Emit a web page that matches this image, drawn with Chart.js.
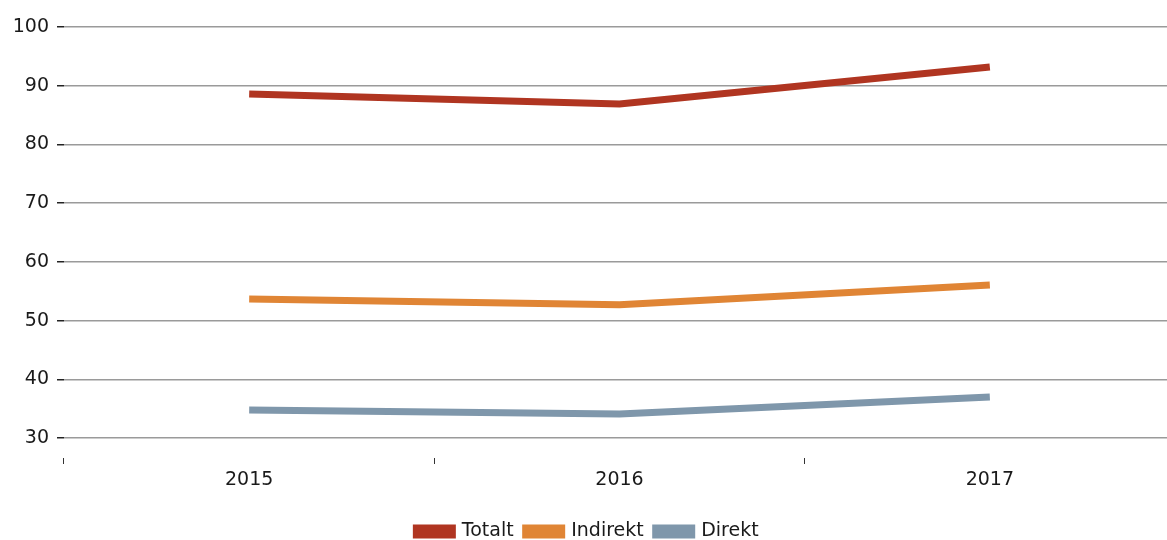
<!DOCTYPE html>
<html>
<head>
<meta charset="utf-8">
<script src="https://cdn.jsdelivr.net/npm/chart.js@4/dist/chart.umd.min.js"></script>
<style>
  html, body { margin: 0; padding: 0; overflow: hidden; background: #fff; }
  #wrap { width: 1175px; height: 540px; }
</style>
</head>
<body>
<div id="wrap"><canvas id="lineChart"></canvas></div>
<script>
// Data
const years = ['2015', '2016', '2017'];
const totalt = [88.6, 86.9, 93.2];
const indirekt = [53.7, 52.7, 56.1];
const direkt = [34.8, 34.1, 37.0];
const yTicks = [30, 40, 50, 60, 70, 80, 90, 100];

const fontFamily = '"DejaVu Sans", sans-serif';
const textColor = '#1a1a1a';
const gridColor = '#9a9a9a';

Chart.defaults.font.family = fontFamily;
Chart.defaults.color = textColor;

const lineChart = document.getElementById('lineChart');
if (lineChart) {
  const lineChartVar = new Chart(lineChart, {
    type: 'line',
    data: {
      labels: years,
      datasets: [
        { label: 'Totalt', data: totalt, borderColor: '#b03521', backgroundColor: '#b03521' },
        { label: 'Indirekt', data: indirekt, borderColor: '#e08535', backgroundColor: '#e08535' },
        { label: 'Direkt', data: direkt, borderColor: '#7f97ab', backgroundColor: '#7f97ab' }
      ]
    },
    options: {
      responsive: true,
      maintainAspectRatio: false,
      animation: false,
      layout: {
        padding: { top: 27, right: 0, left: 0, bottom: -11 }
      },
      elements: {
        line: { borderWidth: 7, tension: 0, borderCapStyle: 'butt' },
        point: { radius: 0, hoverRadius: 0 }
      },
      plugins: {
        tooltip: { enabled: false },
        legend: {
          position: 'bottom',
          labels: {
            boxWidth: 36,
            boxHeight: 7,
            padding: 12,
            color: textColor,
            font: { size: 19 }
          }
        }
      },
      scales: {
        x: {
          offset: true,
          border: { display: false },
          afterFit: function (scale) {
            scale.height += 15;
          },
          grid: {
            offset: true,
            drawOnChartArea: false,
            color: '#333',
            tickLength: 26,
            tickBorderDash: [0, 20, 6, 200]
          },
          ticks: {
            color: textColor,
            padding: 4,
            font: { size: 19 }
          }
        },
        y: {
          min: 30,
          max: 100,
          border: { display: false },
          afterBuildTicks: function (scale) {
            scale.ticks = yTicks.map(function (v) { return { value: v }; });
          },
          afterFit: function (scale) {
            scale.width = 64;
          },
          grid: {
            color: gridColor,
            lineWidth: 1.5,
            tickColor: '#222',
            tickLength: 7
          },
          ticks: {
            color: textColor,
            padding: 8,
            font: { size: 19 }
          }
        }
      }
    }
  });
}
</script>
</body>
</html>
